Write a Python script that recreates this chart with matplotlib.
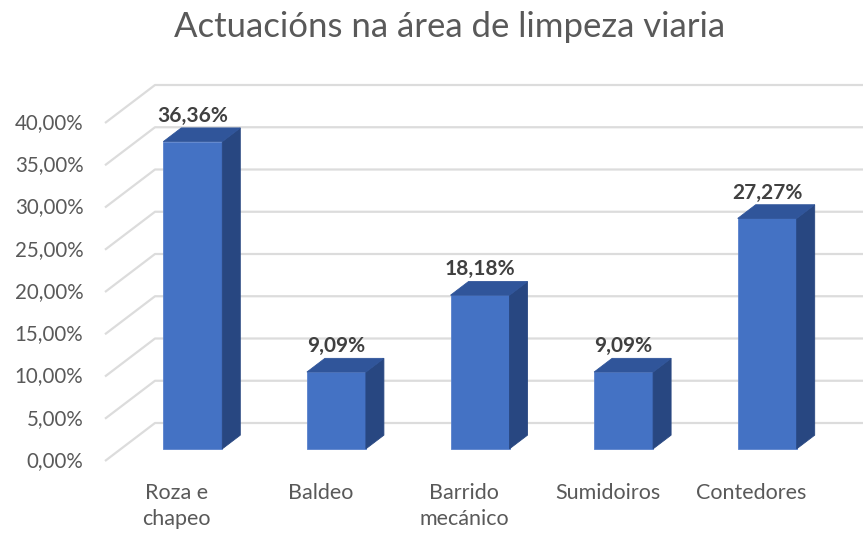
import matplotlib.pyplot as plt
from matplotlib.patches import Polygon

# data
categories = ['Roza e\nchapeo', 'Baldeo', 'Barrido\nmecánico', 'Sumidoiros', 'Contedores']
values = [36.36, 9.09, 18.18, 9.09, 27.27]
value_labels = ['36,36%', '9,09%', '18,18%', '9,09%', '27,27%']
ticks = [0, 5, 10, 15, 20, 25, 30, 35, 40]
tick_labels = ['0,00%', '5,00%', '10,00%', '15,00%', '20,00%', '25,00%', '30,00%', '35,00%', '40,00%']

plt.rcParams['font.family'] = ['Lato', 'DejaVu Sans']

W, H = 863, 533
fig = plt.figure(figsize=(W / 100, H / 100), dpi=100)

# axes placement in pixels (front plane origin at x=105, y=461)
left_px, bottom_px, top_px = 105, 461, 76
ax = fig.add_axes([left_px / W, (H - bottom_px) / H, (W - left_px) / W, (bottom_px - top_px) / H])
slot_px = 143.6
px_per_unit = 8.45
xmin = -0.5
xmax = xmin + (W - left_px) / slot_px
ymax = (bottom_px - top_px) / px_per_unit
ax.set_xlim(xmin, xmax)
ax.set_ylim(0, ymax)
ax.axis('off')

# 3d look: full depth offset in data units
ddx = 50 / slot_px
ddy = 38 / px_per_unit
f0, fd = 0.32, 0.36   # bar front position and depth (fraction of full depth)
bw = 59 / slot_px     # bar width

grid_c = '#dcdcdc'
for t, lab in zip(ticks, tick_labels):
    ax.plot([xmin, xmin + ddx, xmax], [t, t + ddy, t + ddy], color=grid_c, lw=1.6,
            zorder=1, clip_on=False, solid_capstyle='butt')
    ax.text(xmin - 0.15, t, lab, ha='right', va='center', fontsize=14.8, color='#595959')

front_c, top_c, side_c = '#4472c4', '#30559a', '#284781'
for i, v in enumerate(values):
    x0 = i - bw / 2 + f0 * ddx
    x1 = x0 + bw
    y0 = f0 * ddy
    y1 = y0 + v
    dx, dy = fd * ddx, fd * ddy
    z = 3 + i
    ax.add_patch(Polygon([(x0, y0), (x1, y0), (x1, y1), (x0, y1)], closed=True,
                         fc=front_c, ec='#5a82cc', lw=0.6, zorder=z))
    ax.add_patch(Polygon([(x1, y0), (x1 + dx, y0 + dy), (x1 + dx, y1 + dy), (x1, y1)], closed=True,
                         fc=side_c, ec=side_c, lw=0.6, zorder=z))
    ax.add_patch(Polygon([(x0, y1), (x1, y1), (x1 + dx, y1 + dy), (x0 + dx, y1 + dy)], closed=True,
                         fc=top_c, ec=top_c, lw=0.6, zorder=z))
    ax.annotate(value_labels[i], ((x0 + x1) / 2, y1 + dy), xytext=(0, 1.5), textcoords='offset points',
                ha='center', va='bottom', fontsize=15, fontweight='bold', color='#404040', zorder=10)
    ax.text(i, -2.6, categories[i], ha='center', va='top', fontsize=15.5, color='#595959',
            linespacing=1.4)

fig.text(450 / W, 1 - 27 / H, 'Actuacións na área de limpeza viaria', ha='center', va='center',
         fontsize=25, color='#595959')

fig.savefig('out.png', dpi=100)
